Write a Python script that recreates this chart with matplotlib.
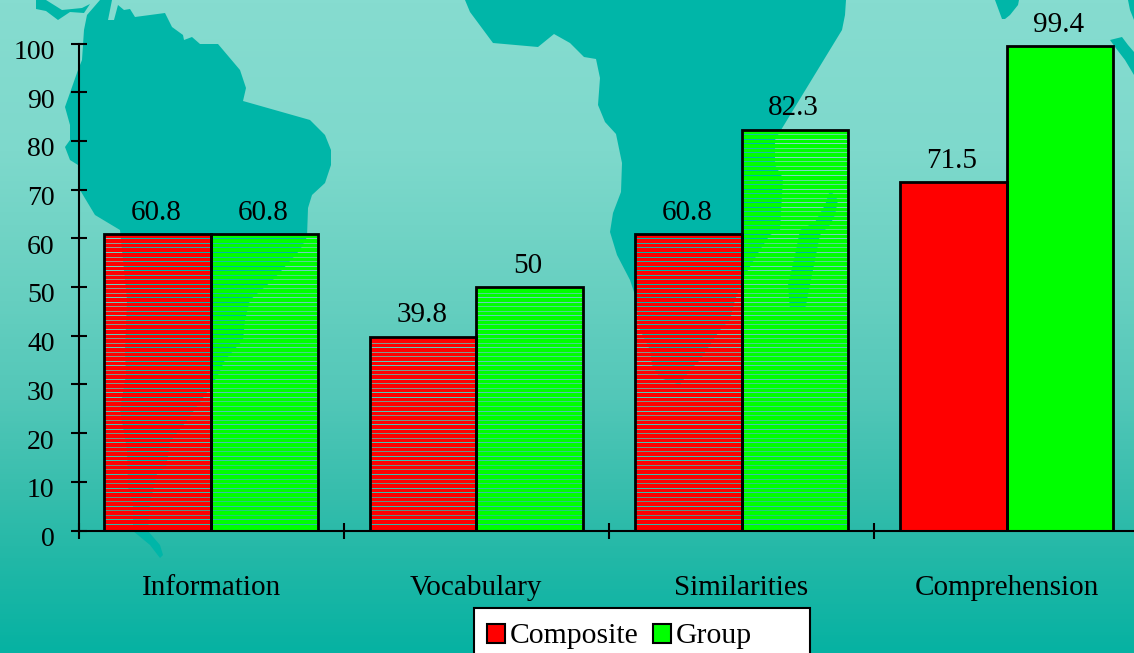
import numpy as np
import matplotlib
matplotlib.use("Agg")
import matplotlib.pyplot as plt
from matplotlib.colors import LinearSegmentedColormap
from matplotlib.patches import Polygon, Rectangle
from matplotlib.path import Path
from matplotlib.transforms import ScaledTranslation

plt.rcParams['font.family'] = ['Liberation Serif', 'DejaVu Serif']

categories = ['Information', 'Vocabulary', 'Similarities', 'Comprehension']
composite = [60.8, 39.8, 60.8, 71.5]
group = [60.8, 50, 82.3, 99.4]
series_names = ['Composite', 'Group']
series_colors = ['#ff0000', '#00ff00']
yticks = list(range(0, 101, 10))

W, H = 1134, 653
MAP = '#00b6a8'

# decorative world map behind the chart, in pixel coordinates
south_america = [(84, 30), (87, 15), (100, 0), (112, 0), (108, 20), (114, 20), (118, 5), (124, 10), (130, 9),
                 (135, 17), (165, 13), (172, 27), (183, 35), (184, 40), (192, 37), (200, 44), (218, 44), (240, 70),
                 (246, 88), (243, 101), (310, 120), (325, 135), (331, 150), (331, 165), (325, 183), (312, 195),
                 (308, 208), (307, 237), (300, 250), (273, 280), (250, 300), (245, 320), (243, 340), (225, 360),
                 (218, 375), (212, 385), (205, 395), (185, 423), (170, 442), (168, 456), (166, 467), (157, 474),
                 (150, 503), (148, 531), (160, 545), (163, 555), (160, 558), (150, 545), (133, 531), (133, 503),
                 (128, 487), (127, 450), (120, 410), (126, 375), (125, 350), (127, 300), (120, 230), (95, 215),
                 (80, 190), (78, 165), (70, 160), (65, 147), (70, 140), (70, 125), (65, 107), (78, 70), (82, 60)]
island = [(36, 0), (36, 9), (46, 11), (58, 20), (70, 12), (84, 13), (90, 4), (82, 8), (62, 10), (46, 0)]
africa = [(465, 0), (470, 12), (493, 43), (538, 47), (554, 34), (570, 43), (584, 57), (596, 59), (600, 78), (598, 105),
          (605, 122), (616, 134), (622, 163), (621, 192), (613, 213), (610, 232), (617, 255), (630, 280), (635, 295),
          (640, 330), (650, 350), (652, 365), (660, 378), (680, 385), (690, 370), (700, 360), (710, 345), (720, 330),
          (730, 320), (735, 300), (745, 275), (760, 250), (770, 235), (780, 230), (783, 178), (775, 165), (775, 140),
          (781, 130), (842, 30), (845, 15), (846, 0)]
madagascar = [(830, 190), (838, 200), (835, 215), (830, 225), (820, 235), (815, 260), (810, 285), (805, 310),
              (790, 310), (788, 285), (795, 255), (800, 230), (815, 222), (825, 205)]
top_a = [(995, 0), (1019, 0), (1018, 5), (1010, 15), (1005, 19), (1002, 19)]
top_b = [(1110, 40), (1122, 37), (1128, 45), (1134, 52), (1134, 75), (1125, 60), (1115, 47)]
top_c = [(1128, 0), (1134, 0), (1134, 20), (1130, 10)]
land = [south_america, island, africa, madagascar, top_a, top_b, top_c]

stops = [(0, '#86dcd0'), (150, '#7ed9cc'), (300, '#66cfc0'), (400, '#52c7b8'), (500, '#35bdac'), (560, '#22b8a7'),
         (653, '#06b2a2')]
cmap = LinearSegmentedColormap.from_list('bg', [(p / 653, c) for p, c in stops])
grad = np.linspace(0, 1, 653).reshape(-1, 1)

fig = plt.figure(figsize=(W / 100, H / 100), dpi=100)

ax_bg = fig.add_axes([0, 0, 1, 1], zorder=0)
ax_bg.imshow(grad, cmap=cmap, vmin=0, vmax=1, extent=(0, W, H, 0), aspect='auto')
for poly in land:
    ax_bg.add_patch(Polygon(poly, closed=True, fc=MAP, ec='none'))
ax_bg.set_xlim(0, W)
ax_bg.set_ylim(H, 0)
ax_bg.axis('off')

LEFT, BOTTOM, CAT_W, PX_PER_UNIT = 78.5, 530.5, 265.2, 4.87
ax = fig.add_axes([LEFT / W, (H - BOTTOM) / H, 4 * CAT_W / W, 100 * PX_PER_UNIT / H], zorder=1)
ax.patch.set_visible(False)

x = np.arange(len(categories)) + 0.5
bw = 0.402
all_bars = []
for off, vals, col in [(-bw / 2, composite, series_colors[0]), (bw / 2, group, series_colors[1])]:
    ax.bar(x + off, vals, bw, color=col, edgecolor='none', zorder=2)
    ax.bar(x + off, vals, bw, facecolor='none', edgecolor='black', linewidth=2.0, zorder=5)
    all_bars.append((x + off, vals))

ax.set_xlim(0, len(categories))
ax.set_ylim(0, 100)

# see-through scan lines on the first three groups: the background shows through the bars.
# Rows repeat with a period of seven: three full rows and four lighter ones.
to_px = ax.transData + ax_bg.transData.inverted()
verts, codes = [], []
for xs, vals in all_bars:
    for xc, v in list(zip(xs, vals))[:3]:
        (x0, y_top), (x1, y_bot) = to_px.transform([(xc - bw / 2, v), (xc + bw / 2, 0)])
        k = 0
        yy = 524.3
        while yy > y_top + 2:
            row = np.floor(yy)
            h = 1.0 if k % 7 in (0, 1, 4) else 0.75
            verts += [(x0, row), (x1, row), (x1, row + h), (x0, row + h), (x0, row)]
            codes += [Path.MOVETO, Path.LINETO, Path.LINETO, Path.LINETO, Path.CLOSEPOLY]
            k += 1
            yy -= 4.53
stripe_path = Path(verts, codes)
im = ax.imshow(grad, cmap=cmap, vmin=0, vmax=1, extent=(0, W, H, 0), aspect='auto', zorder=3)
im.set_transform(ax_bg.transData)
im.set_clip_path(stripe_path, transform=ax_bg.transData)
for poly in land:
    p = Polygon(poly, closed=True, fc=MAP, ec='none', transform=ax_bg.transData, zorder=4)
    ax.add_patch(p)
    p.set_clip_path(stripe_path, transform=ax_bg.transData)
ax.set_xlim(0, len(categories))
ax.set_ylim(0, 100)
ax.set_aspect('auto')

for xs, vals in all_bars:
    for xc, v in zip(xs, vals):
        ax.annotate(f'{v:g}', (xc, v), xytext=(-1, 6), textcoords='offset points', ha='center', va='bottom',
                    fontsize=21, color='black', zorder=6, annotation_clip=False)

for s in ['top', 'right']:
    ax.spines[s].set_visible(False)
for s in ['left', 'bottom']:
    ax.spines[s].set_linewidth(1.5)
    ax.spines[s].set_zorder(6)
ax.set_yticks(yticks)
ax.set_xticks(np.arange(len(categories)))
ax.set_xticklabels([])
ax.set_xticks(x, minor=True)
ax.set_xticklabels(categories, minor=True, fontsize=21)
ax.tick_params(axis='x', which='major', direction='inout', length=11.5, width=1.5)
ax.tick_params(axis='x', which='minor', length=0, pad=32)
ax.tick_params(axis='y', direction='inout', length=11.5, width=1.5, labelsize=20, pad=11.5)
shift = ScaledTranslation(0, -6 / 100, fig.dpi_scale_trans)
for lab in ax.get_yticklabels():
    lab.set_transform(lab.get_transform() + shift)

# legend box, cut by the lower edge of the picture as in the original
ax_top = fig.add_axes([0, 0, 1, 1], zorder=2)
ax_top.set_xlim(0, W)
ax_top.set_ylim(H, 0)
ax_top.axis('off')
ax_top.add_patch(Rectangle((474, 608), 336, 60, fc='white', ec='black', lw=1.5))
for hx, tx, name, col in zip([486.5, 652.5], [510, 676], series_names, series_colors):
    ax_top.add_patch(Rectangle((hx, 624), 18, 18.5, fc=col, ec='black', lw=1.5))
    ax_top.text(tx, 643, name, fontsize=21.3, ha='left', va='baseline', color='black')

fig.savefig('out.png', dpi=100)
